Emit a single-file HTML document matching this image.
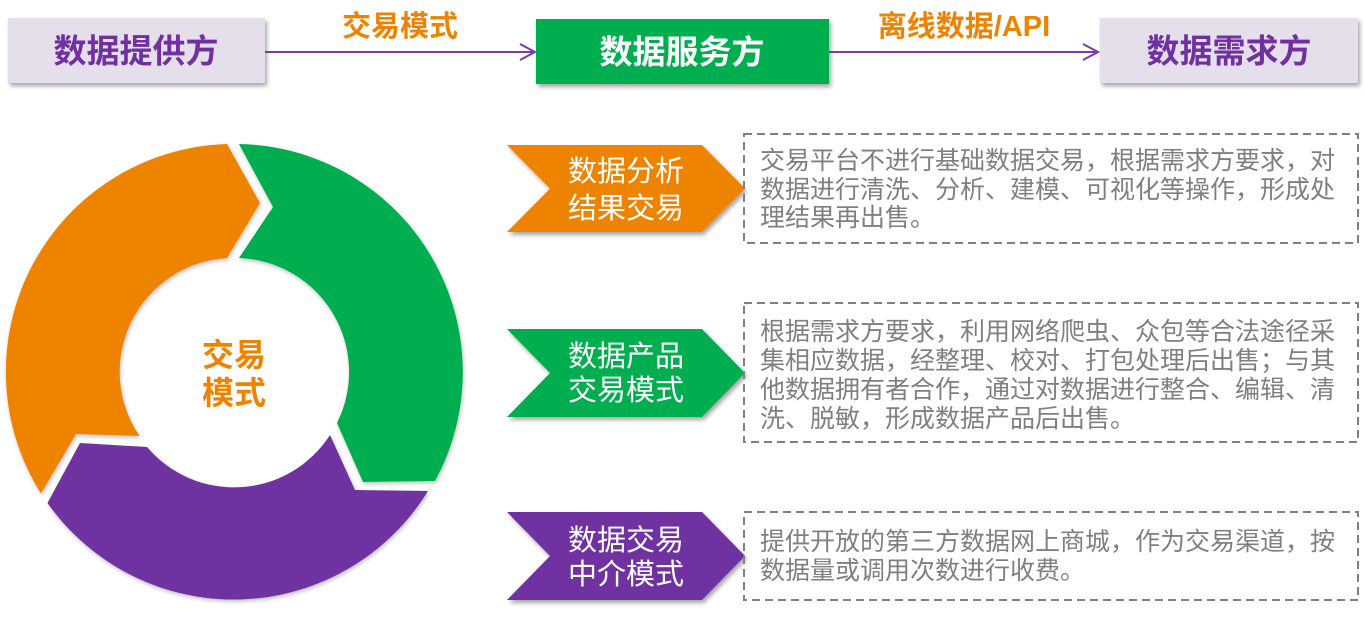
<!DOCTYPE html>
<html>
<head>
<meta charset="utf-8">
<style>
html,body{margin:0;padding:0;background:#fff;}
svg{display:block;}
text{font-family:"Liberation Sans","Noto Sans CJK SC","WenQuanYi Zen Hei",sans-serif;}
</style>
</head>
<body>
<svg width="1365" height="620" viewBox="0 0 1365 620" xmlns="http://www.w3.org/2000/svg">
<defs>
  <filter id="sh" x="-10%" y="-10%" width="130%" height="140%">
    <feDropShadow dx="2" dy="3" stdDeviation="2" flood-color="#000" flood-opacity="0.35"/>
  </filter>
  <filter id="sh2" x="-10%" y="-10%" width="130%" height="130%">
    <feDropShadow dx="1" dy="2" stdDeviation="2" flood-color="#000" flood-opacity="0.25"/>
  </filter>
</defs>

<!-- Top row boxes -->
<rect x="8" y="18" width="257" height="65" fill="#E5DFEC" filter="url(#sh)"/>
<text x="136" y="51" text-anchor="middle" dominant-baseline="central" font-size="33" font-weight="bold" fill="#7030A0">数据提供方</text>

<rect x="536" y="19" width="293" height="65" fill="#00AE50" filter="url(#sh)"/>
<text x="682" y="52" text-anchor="middle" dominant-baseline="central" font-size="33" font-weight="bold" fill="#ffffff">数据服务方</text>

<rect x="1100" y="18" width="258" height="65" fill="#E5DFEC" filter="url(#sh)"/>
<text x="1229" y="51" text-anchor="middle" dominant-baseline="central" font-size="33" font-weight="bold" fill="#7030A0">数据需求方</text>

<!-- Top arrows -->
<g stroke="#7B3AAA" stroke-width="2" fill="none">
  <line x1="265" y1="52" x2="534" y2="52"/>
  <polyline points="520,44 535,52 520,60"/>
  <line x1="829" y1="52" x2="1097" y2="52"/>
  <polyline points="1083,44 1098,52 1083,60"/>
</g>
<text x="400" y="27" text-anchor="middle" dominant-baseline="central" font-size="29" font-weight="bold" fill="#EE8300">交易模式</text>
<text x="964" y="27" text-anchor="middle" dominant-baseline="central" font-size="29" font-weight="bold" fill="#EE8300">离线数据/API</text>

<!-- Ring -->
<g filter="url(#sh2)">
  <path d="M239,144 A228,228 0 0 1 435,481 L363,482 L337,423 A114,114 0 0 0 239,258 L273,207 Z" fill="#00AE50"/>
  <path d="M428,491 A228,228 0 0 1 47.5,503 L80,443 L147,447 A114,114 0 0 0 330,435 L355,490 Z" fill="#7030A0"/>
  <path d="M41,493.5 A228,228 0 0 1 227,144 L260,203 L227,258 A114,114 0 0 0 139.5,436 L76,434 Z" fill="#EE8300"/>
</g>
<text x="234" y="355" text-anchor="middle" dominant-baseline="central" font-size="32" font-weight="bold" fill="#EE8300">交易</text>
<text x="234" y="393" text-anchor="middle" dominant-baseline="central" font-size="32" font-weight="bold" fill="#EE8300">模式</text>

<!-- Chevrons -->
<g filter="url(#sh)">
  <polygon points="507,145 702,145 745,188.5 702,232 507,232 550,188.5" fill="#EE8300"/>
  <polygon points="507,329 702,329 745,373 702,417 507,417 550,373" fill="#00AE50"/>
  <polygon points="507,512 702,512 745,556 702,600 507,600 550,556" fill="#7030A0"/>
</g>
<g font-size="29" fill="#ffffff" text-anchor="middle" dominant-baseline="central">
  <text x="626" y="172">数据分析</text>
  <text x="626" y="209">结果交易</text>
  <text x="626" y="357">数据产品</text>
  <text x="626" y="391">交易模式</text>
  <text x="626" y="541">数据交易</text>
  <text x="626" y="575">中介模式</text>
</g>

<!-- Dashed description boxes -->
<g fill="none" stroke="#808080" stroke-width="2" stroke-dasharray="8 5">
  <rect x="744" y="134" width="614" height="109"/>
  <rect x="744" y="303" width="614" height="139"/>
  <rect x="744" y="512" width="614" height="88"/>
</g>
<g font-size="25" fill="#7F7F7F" dominant-baseline="central">
  <text x="760" y="161">交易平台不进行基础数据交易，根据需求方要求，对</text>
  <text x="760" y="190">数据进行清洗、分析、建模、可视化等操作，形成处</text>
  <text x="760" y="218">理结果再出售。</text>

  <text x="760" y="332">根据需求方要求，利用网络爬虫、众包等合法途径采</text>
  <text x="760" y="361">集相应数据，经整理、校对、打包处理后出售；与其</text>
  <text x="760" y="390">他数据拥有者合作，通过对数据进行整合、编辑、清</text>
  <text x="760" y="419">洗、脱敏，形成数据产品后出售。</text>

  <text x="760" y="542">提供开放的第三方数据网上商城，作为交易渠道，按</text>
  <text x="760" y="571">数据量或调用次数进行收费。</text>
</g>
</svg>
</body>
</html>
